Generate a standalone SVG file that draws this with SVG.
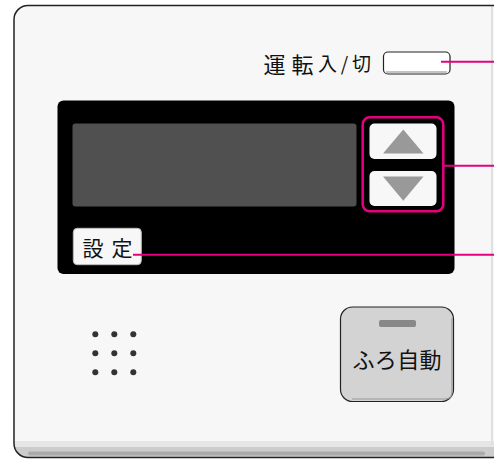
<svg xmlns="http://www.w3.org/2000/svg" width="494" height="459" viewBox="0 0 494 459">
<defs>
<style>
.jp{font-family:"Noto Sans CJK JP","Noto Sans CJK SC",sans-serif;fill:#111}
.lead{stroke:#e6007e;stroke-width:2;fill:none}
.btn{fill:#f7f7f7}
.tri{fill:#999}
.dot{fill:#333}
</style>
<clipPath id="pc"><rect x="14" y="5.5" width="494" height="452" rx="14"/></clipPath>
</defs>
<rect width="494" height="459" fill="#ffffff"/>
<g id="panel">
<rect x="14" y="5.5" width="494" height="452" rx="14" fill="#f7f7f7"/>
<g clip-path="url(#pc)">
<rect x="14" y="441" width="494" height="20" fill="#e6e6e6"/>
<rect x="14" y="447" width="494" height="14" fill="#cccccc"/>
<rect x="28" y="451.5" width="457" height="4" rx="2" fill="#aaaaaa"/>
<rect x="491" y="5" width="2" height="440" fill="#e0e0e0"/>
</g>
<rect x="14" y="5.5" width="494" height="452" rx="14" fill="none" stroke="#222" stroke-width="1.5"/>
</g>
<g id="power">
<text class="jp" x="263.5" y="73" font-size="22" textLength="50" lengthAdjust="spacing">運転</text>
<text class="jp" x="318" y="71" font-size="19" textLength="53" lengthAdjust="spacing">入/切</text>
<rect x="383.5" y="52" width="66.5" height="22" rx="4.5" fill="#fff" stroke="#222" stroke-width="1.2"/>
<line x1="386" y1="72" x2="447" y2="72" stroke="#888" stroke-width="1.2"/>
</g>
<g id="display">
<rect x="57.5" y="100.5" width="397" height="173.5" rx="6" fill="#000"/>
<rect x="72.5" y="123.5" width="284" height="83" rx="3" fill="#505050"/>
</g>
<g id="updown">
<rect x="369.5" y="123.5" width="67" height="35.5" rx="5" class="btn"/>
<polygon points="403.3,129.5 423.5,153.5 383,153.5" class="tri"/>
<rect x="369.5" y="171" width="67" height="35" rx="5" class="btn"/>
<polygon points="383,176.5 423.5,176.5 403.3,200.8" class="tri"/>
<rect x="362.7" y="117.3" width="80.6" height="94" rx="7" stroke="#e6007e" stroke-width="2.5" fill="none"/>
</g>
<g id="settei">
<rect x="73.3" y="228.3" width="68" height="36.4" rx="4" fill="#f7f7f7"/>
<rect x="73.3" y="228.3" width="68" height="36.4" rx="4" fill="none" stroke="#bbb" stroke-width="1"/>
<text class="jp" x="82.5" y="256" font-size="21" textLength="50" lengthAdjust="spacing">設定</text>
</g>
<g id="speaker">
<circle cx="95.3" cy="334.3" r="3" class="dot"/>
<circle cx="114.3" cy="334.3" r="3" class="dot"/>
<circle cx="133.3" cy="334.3" r="3" class="dot"/>
<circle cx="95.3" cy="353.3" r="3" class="dot"/>
<circle cx="114.3" cy="353.3" r="3" class="dot"/>
<circle cx="133.3" cy="353.3" r="3" class="dot"/>
<circle cx="95.3" cy="372.3" r="3" class="dot"/>
<circle cx="114.3" cy="372.3" r="3" class="dot"/>
<circle cx="133.3" cy="372.3" r="3" class="dot"/>
</g>
<g id="furo">
<rect x="340.5" y="307" width="113" height="94.5" rx="12" fill="#d3d3d3" stroke="#222" stroke-width="1.2"/>
<path d="M452,318 V392 Q452,399 445,399 H352" fill="none" stroke="#999" stroke-width="1.2"/>
<rect x="379" y="320" width="37" height="7" rx="2" fill="#888"/>
<text class="jp" x="352.5" y="368" font-size="22" textLength="89" lengthAdjust="spacing">ふろ自動</text>
</g>
<g id="connectors">
<line x1="441" y1="61.7" x2="494" y2="61.7" class="lead"/>
<line x1="443.3" y1="165.7" x2="494" y2="165.7" class="lead"/>
<line x1="133" y1="254.7" x2="494" y2="254.7" class="lead"/>
</g>
</svg>
